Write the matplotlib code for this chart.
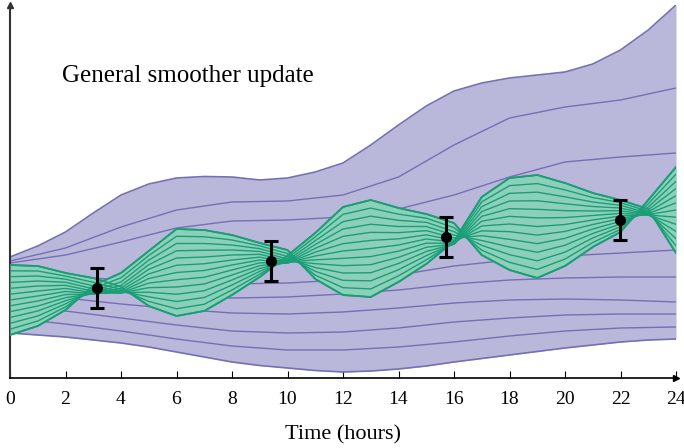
import numpy as np
import matplotlib
matplotlib.use("Agg")
import matplotlib.pyplot as plt

# ---------------- data ----------------
hours_fine = list(range(0, 25))          # hourly nodes
hours_coarse = list(range(0, 25, 2))     # two-hourly nodes

# prior ensemble envelope (hourly)
prior_top = [12.1, 13.2, 14.6, 16.5, 18.3, 19.4, 20.0, 20.15, 20.1, 19.8, 20.0, 20.6,
             21.5, 23.3, 25.3, 27.2, 28.7, 29.5, 30.0, 30.3, 30.6, 31.4, 32.8, 34.8, 37.3]
prior_bottom = [4.5, 4.3, 4.1, 3.8, 3.5, 3.1, 2.6, 2.1, 1.6, 1.25, 1.0, 0.75, 0.6,
                0.7, 0.9, 1.2, 1.6, 1.95, 2.3, 2.65, 3.0, 3.3, 3.6, 3.8, 3.9]

# prior ensemble interior members (two-hourly)
prior_m1 = [11.7, 13.0, 15.1, 16.8, 17.6, 17.7, 18.3, 20.1, 23.3, 26.0, 27.1, 27.8, 29.0]
prior_m2 = [11.5, 12.3, 13.6, 15.0, 15.7, 15.8, 16.1, 16.9, 18.3, 20.1, 21.6, 22.1, 22.5]
prior_m3 = [10.6, 10.2, 9.8, 9.5, 9.4, 9.5, 9.8, 10.3, 11.2, 11.8, 12.2, 12.5, 12.8]
prior_m4 = [9.6, 9.1, 8.6, 8.2, 8.0, 8.1, 8.4, 8.8, 9.4, 9.8, 10.0, 10.1, 10.1]
prior_m5 = [8.6, 8.0, 7.4, 6.9, 6.5, 6.4, 6.6, 7.0, 7.5, 7.8, 7.9, 7.8, 7.6]
prior_m6 = [7.3, 6.7, 6.0, 5.3, 4.7, 4.5, 4.6, 5.0, 5.6, 6.0, 6.3, 6.4, 6.4]
prior_m7 = [6.0, 5.4, 4.7, 3.9, 3.2, 2.8, 2.8, 3.1, 3.6, 4.2, 4.7, 5.0, 5.1]

# posterior (smoother) ensemble, read as a twisting ribbon (hourly):
# centre, signed half-width and neck thickness where the members cross
post_centre = [7.8, 8.2, 8.65, 8.83, 9.01, 9.95, 10.55, 10.75, 11.3, 11.8, 11.85, 12.2,
               12.7, 12.95, 13.3, 13.9, 13.93, 15.2, 15.4, 15.15, 15.35, 15.8, 16.2, 16.68, 16.8]
post_halfwidth = [3.5, 3.0, 1.85, 0.37, -0.69, -2.75, -4.35, -4.05, -3.0, -1.7, -0.28, 2.3,
                  4.4, 4.85, 3.7, 2.5, 0.9, -2.9, -4.6, -5.15, -4.15, -2.7, -1.6, 0.45, 4.3]
post_neck = [0, 0, 0, 1.2, 1.2, 0, 0, 0, 0, 0, 1.0, 0,
             0, 0, 0, 0, 1.0, 0, 0, 0, 0, 0, 0, 1.0, 0]
member_pos = [1.0, 0.8333, 0.6667, 0.5, 0.3333, 0.1667, 0.0,
              -0.1667, -0.3333, -0.5, -0.6667, -0.8333, -1.0]

# observations
obs_time = [3.14, 9.42, 15.71, 21.99]
obs_value = [9.0, 11.7, 14.1, 15.8]
obs_err = [2.0, 2.0, 2.0, 2.0]

xticks = list(range(0, 25, 2))
title_text = "General smoother update"
xlabel_text = "Time (hours)"

# ---------------- styling ----------------
PURPLE = "#7570b3"
PURPLE_FILL = "#b9b7da"
GREEN = "#1b9e77"
GREEN_FILL = "#8dd0b9"

plt.rcParams["font.family"] = ["Liberation Serif", "DejaVu Serif"]

fig = plt.figure(figsize=(6.84, 4.48), dpi=100)
ax = fig.add_axes([10 / 684, 70 / 448, 666 / 684, 373 / 448])

hf = np.array(hours_fine, dtype=float)
hc = np.array(hours_coarse, dtype=float)

# prior
ax.fill_between(hf, prior_bottom, prior_top, color=PURPLE_FILL, lw=0, zorder=1)
for m in [prior_m1, prior_m2, prior_m3, prior_m4, prior_m5, prior_m6, prior_m7]:
    ax.plot(hc, m, color=PURPLE, lw=1.0, zorder=2)
ax.plot(hf, prior_top, color=PURPLE, lw=1.2, zorder=2)
ax.plot(hf, prior_bottom, color=PURPLE, lw=1.2, zorder=2)

# posterior members
c = np.array(post_centre)
w = np.array(post_halfwidth)
v = np.array(post_neck)
members = [c + s * w + (s * s - 1.0 / 3.0) * v for s in member_pos]

# fill the region covered by the members (evaluate the polylines densely)
xd = np.linspace(0, 24, 2401)
dense = np.array([np.interp(xd, hf, m) for m in members])
ax.fill_between(xd, dense.min(axis=0), dense.max(axis=0), color=GREEN_FILL, lw=0, zorder=3)
for i, m in enumerate(members):
    ax.plot(hf, m, color=GREEN, lw=1.0 if 0 < i < len(members) - 1 else 1.2, zorder=4)
ax.plot(xd, dense.min(axis=0), color=GREEN, lw=1.3, zorder=4)
ax.plot(xd, dense.max(axis=0), color=GREEN, lw=1.3, zorder=4)

# observations
ax.errorbar(obs_time, obs_value, yerr=obs_err, fmt="o", color="black", ms=7,
            elinewidth=2.2, capsize=5, capthick=2.2, zorder=6)

ax.set_xlim(0, 24)
ax.set_ylim(0, 37.3)
ax.set_xticks(xticks)
ax.set_xticklabels([str(t) for t in xticks], fontsize=14)
ax.set_yticks([])
ax.tick_params(axis="x", direction="in", length=5, width=0.8, pad=9)
for s in ["top", "right"]:
    ax.spines[s].set_visible(False)
ax.spines["bottom"].set_linewidth(1.2)
ax.spines["left"].set_linewidth(1.5)
ax.spines["left"].set_color("#333333")
ax.plot(1, 0, marker=">", color="black", ms=5, transform=ax.transAxes, clip_on=False, zorder=7)
ax.plot(0, 1, marker="^", color="#333333", ms=5, transform=ax.transAxes, clip_on=False, zorder=7)

ax.set_xlabel(xlabel_text, fontsize=16, labelpad=13)
ax.text(62 / 684, 1 - 82 / 448, title_text, transform=fig.transFigure, fontsize=18,
        ha="left", va="baseline")

fig.savefig("out.png", dpi=100)
